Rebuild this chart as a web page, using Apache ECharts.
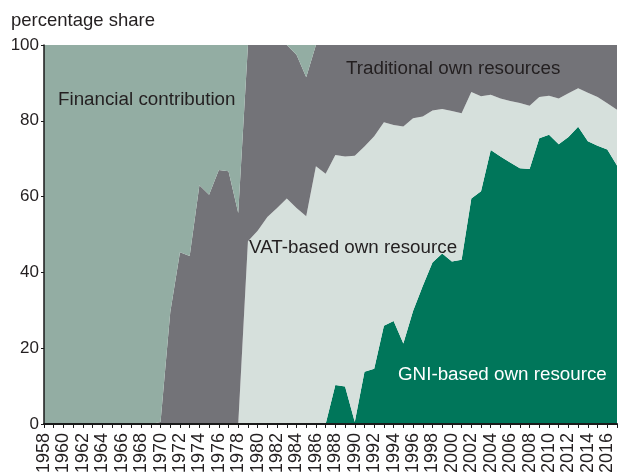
<!DOCTYPE html>
<html>
<head>
<meta charset="utf-8">
<script src="https://cdn.jsdelivr.net/npm/echarts@6/dist/echarts.min.js"></script>
<style>
  html, body { margin: 0; padding: 0; background: #fff; }
  #chart { width: 619px; height: 476px; }
</style>
</head>
<body>
<div id="chart"></div>
<script>
const years = [];
for (let y = 1958; y <= 2017; y++) years.push(String(y));

// shares in %, 1958..2017
const gni = [
  0, 0, 0, 0, 0, 0, 0, 0, 0, 0,
  0, 0, 0, 0, 0, 0, 0, 0, 0, 0,
  0, 0, 0, 0, 0, 0, 0, 0, 0, 0,
  10.3, 9.9, 0.5, 13.8, 14.6, 25.9, 27.2, 21.2, 29.8, 36.4,
  42.6, 45.0, 42.9, 43.3, 59.5, 61.4, 72.3, 70.6, 69.0, 67.5,
  67.3, 75.4, 76.3, 73.8, 75.7, 78.4, 74.6, 73.4, 72.4, 68.2
];
const vat = [
  0, 0, 0, 0, 0, 0, 0, 0, 0, 0,
  0, 0, 0, 0, 0, 0, 0, 0, 0, 0,
  0, 48.2, 51.0, 54.6, 57.0, 59.5, 57.0, 54.8, 68.0, 66.0,
  60.7, 60.7, 70.3, 59.4, 61.3, 53.7, 51.7, 57.3, 50.9, 44.7,
  40.1, 38.1, 39.7, 38.7, 28.1, 25.1, 14.6, 15.3, 16.2, 17.2,
  16.7, 10.9, 10.3, 12.1, 11.6, 10.2, 12.8, 12.9, 12.2, 14.7
];
const traditional = [
  0, 0, 0, 0, 0, 0, 0, 0, 0, 0,
  0, 0, 0.5, 29.5, 45.3, 44.3, 63.0, 60.5, 67.0, 66.7,
  55.7, 51.8, 49.0, 45.4, 43.0, 40.5, 40.4, 36.7, 32.0, 34.0,
  29.0, 29.4, 29.2, 26.8, 24.1, 20.4, 21.1, 21.5, 19.3, 18.9,
  17.3, 16.9, 17.4, 18.0, 12.4, 13.5, 13.1, 14.1, 14.8, 15.3,
  16.0, 13.7, 13.4, 14.1, 12.7, 11.4, 12.6, 13.7, 15.4, 17.1
];
const financial = [
  100, 100, 100, 100, 100, 100, 100, 100, 100, 100,
  100, 100, 99.5, 70.5, 54.7, 55.7, 37.0, 39.5, 33.0, 33.3,
  44.3, 0, 0, 0, 0, 0, 2.6, 8.5, 0, 0,
  0, 0, 0, 0, 0, 0, 0, 0, 0, 0,
  0, 0, 0, 0, 0, 0, 0, 0, 0, 0,
  0, 0, 0, 0, 0, 0, 0, 0, 0, 0
];

const textColor = '#231f20';
const font = '"Liberation Sans", Arial, sans-serif';

const areaSeries = (name, data, color) => ({
  name: name,
  type: 'line',
  stack: 'total',
  data: data,
  showSymbol: false,
  symbol: 'none',
  lineStyle: { width: 0 },
  areaStyle: { color: color, opacity: 1 },
  silent: true
});

const label = (text, left, top, color) => ({
  type: 'text',
  left: left,
  top: top,
  z: 100,
  style: { text: text, fontSize: 18.8, fontFamily: font, fill: color }
});

const myChart = echarts.init(document.getElementById('chart'));

const option = {
  animation: false,
  backgroundColor: '#fff',
  textStyle: { fontFamily: font },
  grid: { left: 44, right: 2, top: 45, bottom: 51, containLabel: false },
  xAxis: {
    type: 'category',
    data: years,
    boundaryGap: false,
    axisLine: { lineStyle: { color: '#1a1a1a', width: 2 } },
    axisTick: { show: true, interval: 0, length: 4, lineStyle: { color: '#1a1a1a', width: 1 } },
    axisLabel: {
      interval: 1,
      rotate: 90,
      margin: 9,
      fontSize: 18,
      color: textColor,
      fontFamily: font
    },
    splitLine: { show: false },
    z: 10
  },
  yAxis: {
    type: 'value',
    min: 0,
    max: 100,
    interval: 20,
    axisLine: { show: true, lineStyle: { color: '#1a1a1a', width: 1.5 } },
    axisTick: { show: true, length: 3, lineStyle: { color: '#1a1a1a' } },
    axisLabel: { fontSize: 17, color: textColor, margin: 5, fontFamily: font },
    splitLine: { show: false },
    z: 10
  },
  series: [
    areaSeries('GNI-based own resource', gni, '#00765a'),
    areaSeries('VAT-based own resource', vat, '#d6e0dc'),
    areaSeries('Traditional own resources', traditional, '#737378'),
    areaSeries('Financial contribution', financial, '#93ada3')
  ],
  graphic: [
    { type: 'text', left: 11, top: 11, z: 100, style: { text: 'percentage share', fontSize: 18.5, fontFamily: font, fill: textColor } },
    label('Financial contribution', 58, 90, textColor),
    label('Traditional own resources', 346, 59, textColor),
    label('VAT-based own resource', 249, 238, textColor),
    label('GNI-based own resource', 398, 365, '#ffffff')
  ]
};

option && myChart.setOption(option);
</script>
</body>
</html>
